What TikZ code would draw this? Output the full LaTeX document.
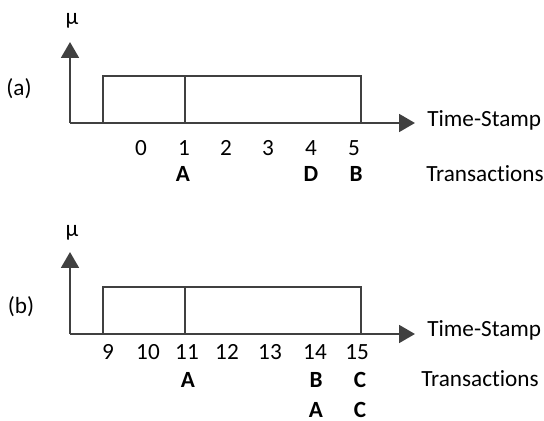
\documentclass[tikz,border=0pt]{standalone}
\usepackage{fontspec}
\setmainfont[RawFeature={-liga;-clig;-dlig}]{Carlito}
\usetikzlibrary{arrows.meta}
\definecolor{axisgray}{HTML}{404040}
\begin{document}
\begin{tikzpicture}[x=0.02cm,y=-0.02cm,
    axis/.style={draw=axisgray,line width=1.5pt,-{Triangle[length=9pt,width=10pt]}},
    box/.style={draw=axisgray,line width=1.5pt},
    lbl/.style={font=\fontsize{13.2}{15}\selectfont,inner sep=0pt},
    txn/.style={lbl,font=\fontsize{13.2}{15}\selectfont\bfseries}]
    \useasboundingbox (0,0) rectangle (544,421);

    % panel (a)
    \coordinate (a-o) at (70,123);
    \coordinate (a-y) at (70,42);
    \coordinate (a-x) at (415,123);
    \draw[box] (103,123) rectangle (361,76);
    \draw[box] (185,76) -- (185,123);
    \draw[axis] (a-o) -- (a-y);
    \draw[axis] (a-o) -- (a-x);
    \node[lbl] (a-mu) at (72,21) {μ};
    \node[lbl] (a-lab) at (19,89) {(a)};
    \node[lbl,anchor=west] (a-ts) at (427,120) {Time-Stamp};
    \node[lbl,anchor=west] (a-tr) at (426,174) {Transactions};
    \foreach \t/\x in {0/141,1/184,2/226,3/268,4/311,5/354}
        \node[lbl] (a-t\t) at (\x,148) {\t};
    \node[txn] (a-A) at (183,174) {A};
    \node[txn] (a-D) at (311,174) {D};
    \node[txn] (a-B) at (356,174) {B};

    % panel (b)
    \coordinate (b-o) at (70,334);
    \coordinate (b-y) at (70,252);
    \coordinate (b-x) at (415,334);
    \draw[box] (103,334) rectangle (361,287);
    \draw[box] (185,287) -- (185,334);
    \draw[axis] (b-o) -- (b-y);
    \draw[axis] (b-o) -- (b-x);
    \node[lbl] (b-mu) at (72,233) {μ};
    \node[lbl] (b-lab) at (21,307) {(b)};
    \node[lbl,anchor=west] (b-ts) at (427,330) {Time-Stamp};
    \node[lbl,anchor=west] (b-tr) at (421,379) {Transactions};
    \foreach \t/\x in {9/108,10/148,11/187,12/227,13/270,14/315,15/357}
        \node[lbl] (b-t\t) at (\x,352) {\t};
    \node[txn] (b-A1) at (188,380) {A};
    \node[txn] (b-B1) at (316,380) {B};
    \node[txn] (b-C1) at (360,380) {C};
    \node[txn] (b-A2) at (316,410) {A};
    \node[txn] (b-C2) at (360,410) {C};
\end{tikzpicture}
\end{document}
